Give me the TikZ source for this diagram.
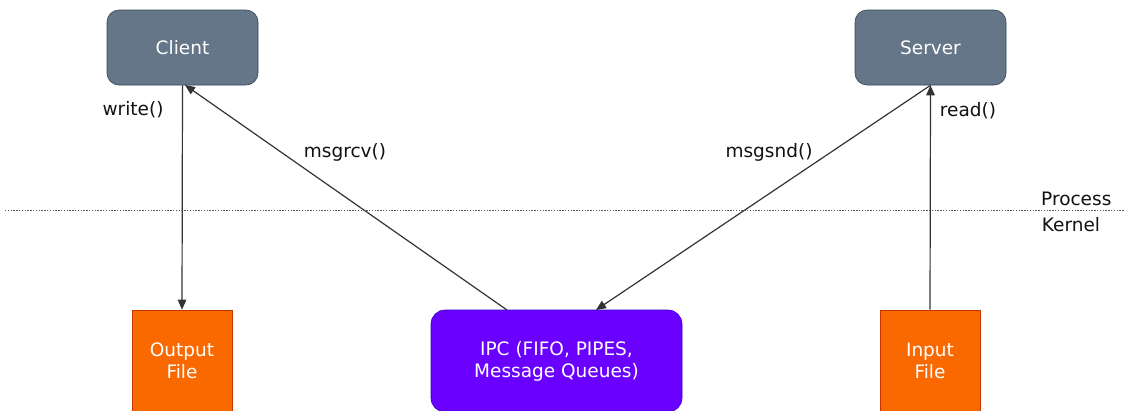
\documentclass[tikz,border=0pt]{standalone}
\usepackage{fontspec}
\setmainfont{DejaVu Sans}
\usetikzlibrary{arrows.meta}
\definecolor{slate}{HTML}{647687}
\definecolor{slateline}{HTML}{314354}
\definecolor{orangefill}{HTML}{FA6800}
\definecolor{orangeline}{HTML}{C73500}
\definecolor{violetfill}{HTML}{6A00FF}
\definecolor{violetline}{HTML}{3700CC}
\definecolor{txt}{HTML}{111111}
\begin{document}
\begin{tikzpicture}[x=1pt,y=-1pt,
  every node/.style={font=\fontsize{18.5}{22}\selectfont, inner sep=0pt},
  procbox/.style={draw=slateline, line width=0.6pt, fill=slate, rounded corners=12pt, minimum width=151pt, minimum height=75pt, text=white},
  filebox/.style={draw=orangeline, line width=0.6pt, fill=orangefill, minimum width=100pt, minimum height=102pt, text=white, align=center},
  ipcbox/.style={draw=violetline, line width=0.6pt, fill=violetfill, rounded corners=14pt, minimum width=251pt, minimum height=102pt, text=white, align=center},
  conn/.style={draw=black!80, line width=1.2pt, -{Triangle[length=10pt,width=8.5pt]}},
  lbl/.style={text=txt}
]
\useasboundingbox (0,0) rectangle (1124,410);
\node[procbox] (client) at (182.5,47.5) {Client};
\node[procbox] (server) at (930.5,47.5) {Server};
\node[filebox] (out) at (182,361) {Output\\File};
\node[filebox] (in) at (930,361) {Input\\File};
\node[ipcbox] (ipc) at (556.5,361) {IPC (FIFO, PIPES,\\Message Queues)};
\coordinate (rcvstart) at (507,310);
\coordinate (rcvend) at (185,85);
\coordinate (sndend) at (596,310);
\draw[conn] (client.south) -- (out.north);
\draw[conn] (rcvstart) -- (rcvend);
\draw[conn] (server.south) -- (sndend);
\draw[conn] (in.north) -- (server.south);
\draw[black!65, line width=1pt, dash pattern=on 1.4pt off 1.4pt] (5,210) -- (1124,210);
\node[lbl] (lwrite) at (133,110) {write()};
\node[lbl] (lread) at (968,111) {read()};
\node[lbl] (lrcv) at (345,152) {msgrcv()};
\node[lbl] (lsnd) at (769,152) {msgsnd()};
\node[lbl, anchor=west] (lproc) at (1041,199) {Process};
\node[lbl] (lkern) at (1071,225) {Kernel};
\end{tikzpicture}
\end{document}
